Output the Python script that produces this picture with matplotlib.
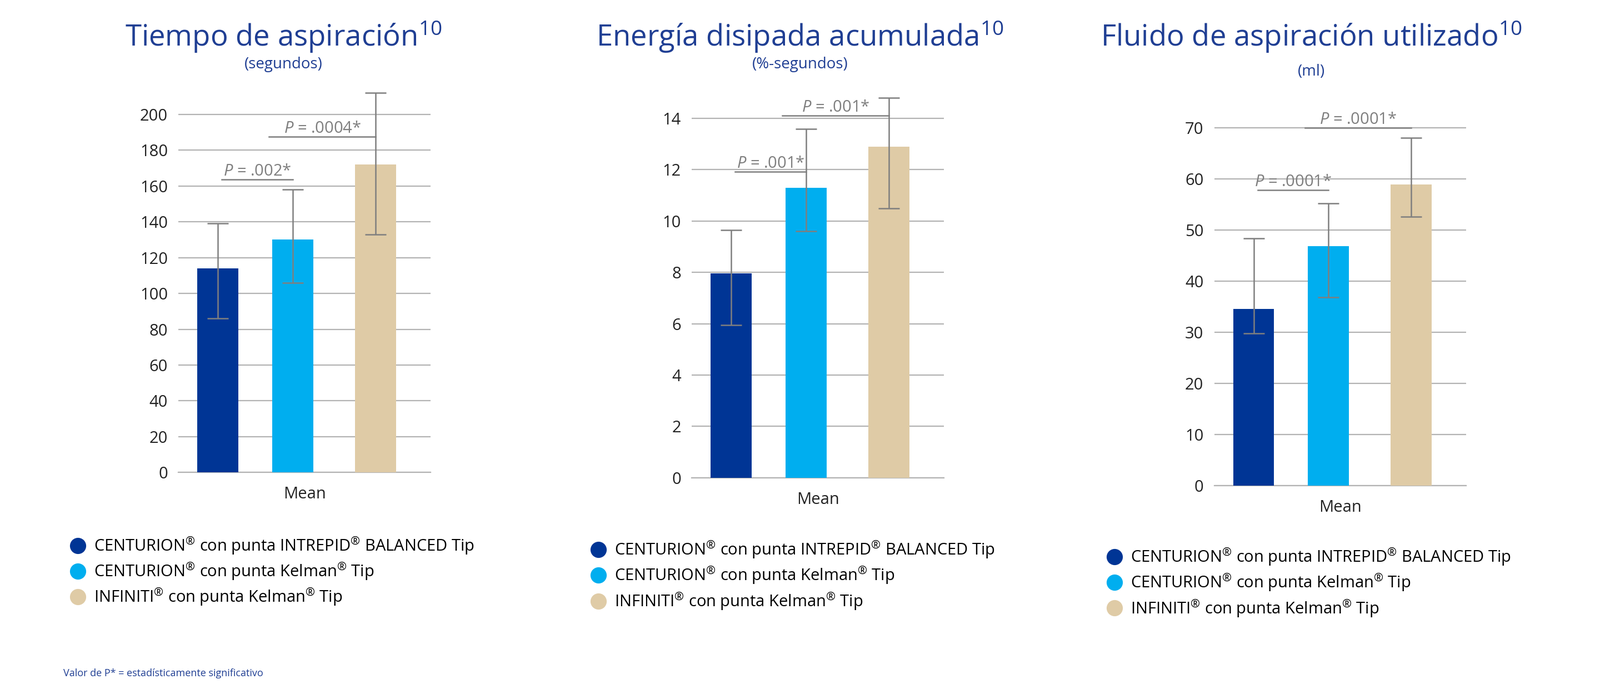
import matplotlib
matplotlib.use("Agg")
import matplotlib.pyplot as plt
from matplotlib.lines import Line2D

plt.rcParams["font.family"] = "Open Sans"
plt.rcParams["mathtext.fontset"] = "custom"
plt.rcParams["mathtext.rm"] = "Open Sans"
plt.rcParams["mathtext.it"] = "Open Sans:italic"

W, H = 1568.0, 680.0  # reference layout units

titles = ["Tiempo de aspiración", "Energía disipada acumulada", "Fluido de aspiración utilizado"]
subtitles = ["(segundos)", "(%-segundos)", "(ml)"]
series = ["CENTURION$^{®}$ con punta INTREPID$^{®}$ BALANCED Tip",
          "CENTURION$^{®}$ con punta Kelman$^{®}$ Tip",
          "INFINITI$^{®}$ con punta Kelman$^{®}$ Tip"]
colors = ["#003595", "#00AEEF", "#DFCBA6"]

means = [[114, 130, 172], [7.95, 11.3, 12.9], [34.6, 46.8, 58.9]]
err_low = [[86, 106, 133], [5.95, 9.6, 10.5], [29.8, 36.8, 52.6]]
err_high = [[139, 158, 212], [9.65, 13.6, 14.8], [48.3, 55.2, 68.0]]
yticks = [list(range(0, 201, 20)), list(range(0, 15, 2)), list(range(0, 71, 10))]
ylims = [(0, 215), (0, 15), (0, 72)]
# p-value brackets: (label, y, x_from_bar, x_to_bar)
pvals = [[("= .002*", 163.5, 0, 1), ("= .0004*", 187.5, 1, 2)],
         [("= .001*", 11.93, 0, 1), ("= .001*", 14.12, 1, 2)],
         [("= .0001*", 57.8, 0, 1), ("= .0001*", 70.0, 1, 2)]]

# panel boxes in reference px: left, right, y of zero, y of top limit
boxes = [(175, 422, 463, 463 - 215 / 200 * 351),
         (678, 925, 468, 468 - 15 / 14 * 352),
         (1190, 1437, 476, 476 - 72 / 70 * 351)]
title_cx = [278, 784, 1285]
title_y = [36, 36, 36]
sub_y = [63, 63, 70]
legend_pos = [(62, 518), (572, 522), (1078, 529)]

fig = plt.figure(figsize=(28.8, 12.49), dpi=100)
fig.patch.set_facecolor("white")
xpos = [0.5, 1.45, 2.5]

for i in range(3):
    l, r, y0, yt = boxes[i]
    ax = fig.add_axes([l / W, 1 - y0 / H, (r - l) / W, (y0 - yt) / H])
    m = means[i]
    yerr = [[m[k] - err_low[i][k] for k in range(3)], [err_high[i][k] - m[k] for k in range(3)]]
    ax.bar(xpos, m, width=0.52, color=colors, zorder=3)
    ax.errorbar(xpos, m, yerr=yerr, fmt="none", ecolor="#7f7f7f", elinewidth=1.8,
                capsize=14, capthick=1.8, zorder=4)
    ax.set_xlim(0, 3.2)
    ax.set_ylim(*ylims[i])
    ax.set_yticks(yticks[i])
    ax.yaxis.grid(True, color="#b3b3b3", linewidth=1.6, zorder=0)
    ax.set_xticks([])
    for s in ["top", "right", "left"]:
        ax.spines[s].set_visible(False)
    ax.spines["bottom"].set_color("#b3b3b3")
    ax.spines["bottom"].set_linewidth(1.6)
    ax.tick_params(axis="y", length=0, labelsize=21, pad=14, labelcolor="#222222")
    ax.set_xlabel("Mean", fontsize=21, labelpad=18, color="#222222")
    for lab, yv, a, b in pvals[i]:
        x1 = xpos[a] + (0.05 if a == 0 else -0.3)
        x2 = xpos[b] + (0.0 if b == 1 else 0.0)
        ax.plot([x1, x2], [yv, yv], color="#7f7f7f", lw=1.8, zorder=5, clip_on=False)
        ax.text((x1 + x2) / 2, yv, r"$\it{P}$ " + lab, ha="center", va="bottom",
                fontsize=21, color="#7f7f7f", zorder=6)
    cx = title_cx[i] / W
    fig.text(cx, 1 - title_y[i] / H, titles[i] + r"$^{\mathrm{10}}$", ha="center", va="center",
             fontsize=38, color="#1F3E93")
    fig.text(cx, 1 - sub_y[i] / H, subtitles[i], ha="center", va="center",
             fontsize=20, color="#1F3E93")
    handles = [Line2D([], [], marker="o", ls="none", markersize=20, color=c) for c in colors]
    lx, ly = legend_pos[i]
    fig.legend(handles, series, loc="upper left", bbox_to_anchor=(lx / W, 1 - ly / H),
               frameon=False, fontsize=21, handletextpad=0.5, labelspacing=0.3,
               handlelength=1.0, borderaxespad=0)

fig.text(62 / W, 1 - 660 / H, "Valor de P* = estadísticamente significativo",
         fontsize=13, color="#1F3E93", va="center")

fig.savefig("out.png", dpi=100)
